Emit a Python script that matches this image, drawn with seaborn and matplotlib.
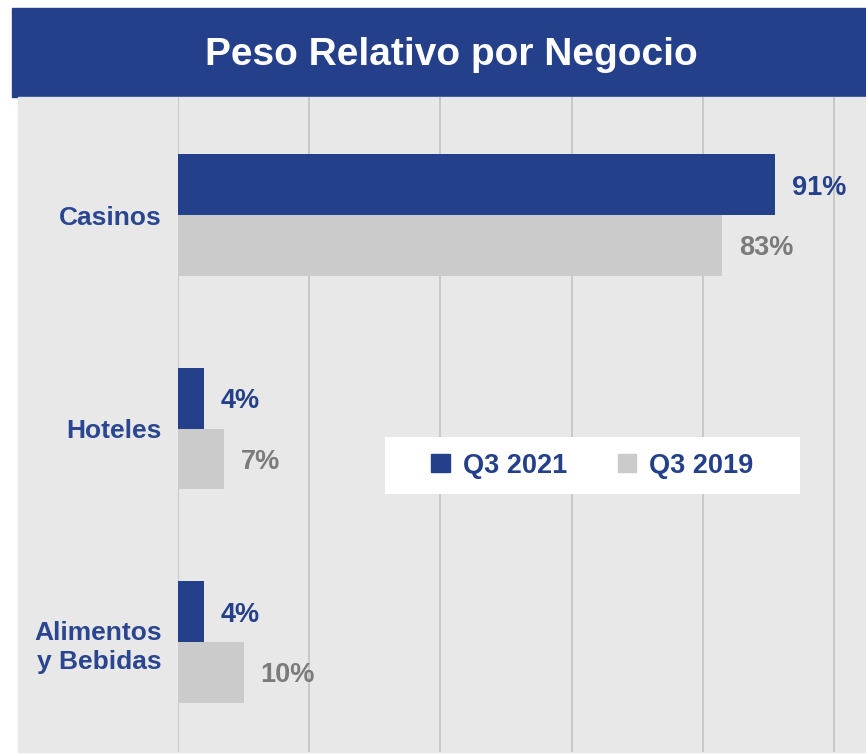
import matplotlib
matplotlib.use('Agg')
import matplotlib.pyplot as plt
from matplotlib.patches import Rectangle
import seaborn as sns
import pandas as pd

# data
negocios = ['Casinos', 'Hoteles', 'Alimentos\ny Bebidas']
periodos = ['Q3 2021', 'Q3 2019']
q3_2021 = [91, 4, 4]
q3_2019 = [83, 7, 10]

BLUE = '#24408b'
GRAY = '#cbcbcb'
PANEL = '#e8e8e8'
GRID = '#c8c8c8'
LABEL_GRAY = '#7b7b7b'
FONT = ['Liberation Sans', 'DejaVu Sans']

df = pd.DataFrame({
    'negocio': negocios * 2,
    'peso': q3_2021 + q3_2019,
    'periodo': [periodos[0]] * 3 + [periodos[1]] * 3,
})

sns.set_theme(style='white')
plt.rcParams['font.family'] = FONT

fig = plt.figure(figsize=(8.66, 7.54), dpi=100)
fig.patch.set_facecolor('white')

# title banner and grey panel behind the chart
fig.patches.append(Rectangle((12 / 866, 1 - 97 / 754), 1, 89 / 754,
                             transform=fig.transFigure, color=BLUE, zorder=-2))
fig.patches.append(Rectangle((18 / 866, 2 / 754), 1, 1 - 97 / 754 - 2 / 754,
                             transform=fig.transFigure, color=PANEL, zorder=-2))
fig.text(0.521, 0.927, 'Peso Relativo por Negocio', color='white',
         fontsize=28, fontweight='bold', ha='center', va='center')

ax = fig.add_axes([178 / 866, 2 / 754, 1 - 178 / 866, 1 - 97 / 754 - 2 / 754])
ax.set_facecolor(PANEL)
ax.set_zorder(1)

sns.barplot(data=df, y='negocio', x='peso', hue='periodo', orient='h',
            order=negocios, hue_order=periodos, palette=[BLUE, GRAY],
            width=0.57, saturation=1, linewidth=0, ax=ax, legend=False)

ax.set_xlim(0, 104.9)
ax.set_ylim(2.515, -0.553)
ax.set_xticks(range(0, 101, 20))
ax.set_xticklabels([])
ax.xaxis.grid(True, color=GRID, linewidth=1.4)
ax.set_axisbelow(True)
for s in ax.spines.values():
    s.set_visible(False)
ax.set_xlabel('')
ax.set_ylabel('')
ax.tick_params(axis='both', length=0)
ax.tick_params(axis='y', pad=11.5)
for lbl in ax.get_yticklabels():
    lbl.set_color('#2a4690')
    lbl.set_fontsize(19)
    lbl.set_fontweight('bold')
    lbl.set_linespacing(1.3)

for cont, col in zip(ax.containers, [BLUE, LABEL_GRAY]):
    txts = ax.bar_label(cont, fmt='{:.0f}%', padding=12, color=col,
                        fontsize=19.5, fontweight='bold')
    for t in txts:
        t.set_va('center_baseline')

# legend on a white box
ax.add_patch(Rectangle((385 / 866, 1 - 494 / 754), 415 / 866, 57 / 754,
                       transform=fig.transFigure, facecolor='white',
                       edgecolor='none', zorder=4))
handles = [Rectangle((0, 0), 1, 1, color=c) for c in [BLUE, GRAY]]
leg = ax.legend(handles, periodos, ncol=2, frameon=False,
                loc='center', bbox_to_anchor=(592.5 / 866, 1 - 465.5 / 754),
                bbox_transform=fig.transFigure,
                handlelength=0.67, handleheight=0.67, handletextpad=0.48,
                columnspacing=1.9, prop={'size': 19.5, 'weight': 'bold'})
leg.set_zorder(5)
for t in leg.get_texts():
    t.set_color(BLUE)

fig.savefig('out.png', dpi=100)
